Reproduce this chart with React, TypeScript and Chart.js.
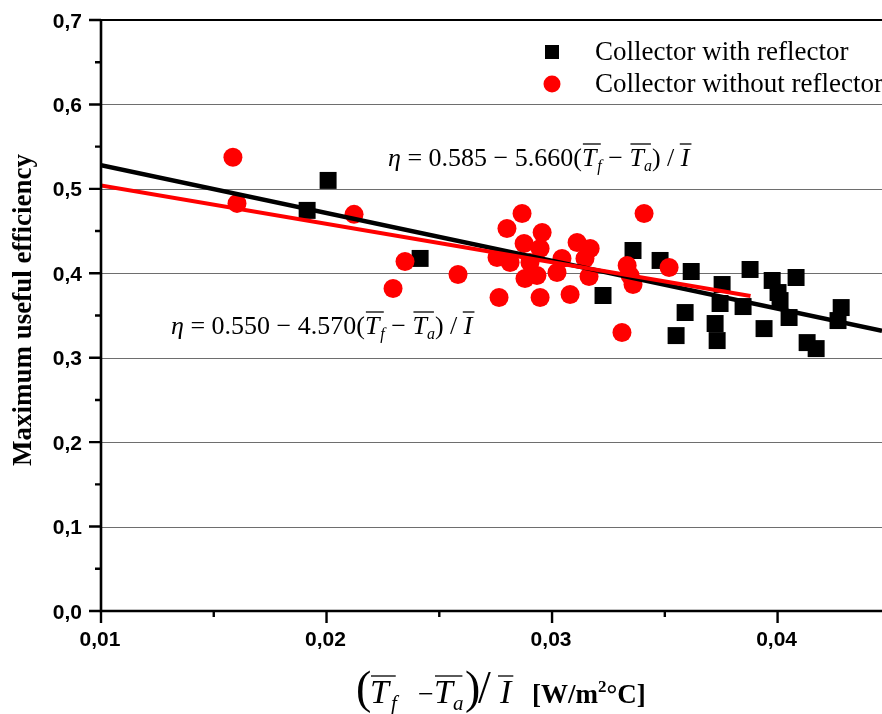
import React, { useEffect, useRef } from 'react';
import { Chart, registerables } from 'chart.js';

Chart.register(...registerables);

// ---- Data ----
const withReflectorX = [
  0.01914, 0.02007, 0.02415, 0.03226, 0.03359, 0.03479, 0.03617, 0.0355, 0.0359,
  0.03723, 0.03732, 0.03754, 0.03745, 0.03847, 0.03878, 0.0394, 0.03976, 0.04002,
  0.04011, 0.04051, 0.04082, 0.04131, 0.04171, 0.04282, 0.04268,
];
const withReflectorY = [
  0.4745, 0.51, 0.4176, 0.3737, 0.427, 0.4152, 0.4021, 0.3262, 0.3535,
  0.3405, 0.3203, 0.3867, 0.3642, 0.3606, 0.4045, 0.3345, 0.3915, 0.3772,
  0.3677, 0.3476, 0.395, 0.3179, 0.3108, 0.3594, 0.344,
];
const withoutReflectorX = [
  0.01585, 0.01603, 0.02122, 0.02295, 0.02348, 0.02583, 0.02765, 0.02756, 0.028,
  0.02867, 0.02956, 0.02814, 0.02876, 0.02947, 0.0288, 0.02933, 0.02902, 0.03022,
  0.03044, 0.02947, 0.0308, 0.03111, 0.03169, 0.03146, 0.03164, 0.03408, 0.03333,
  0.03346, 0.03359, 0.0331, 0.03519,
];
const withoutReflectorY = [
  0.5374, 0.4828, 0.4698, 0.382, 0.414, 0.3986, 0.3713, 0.4187, 0.4531,
  0.4709, 0.4484, 0.4128, 0.4353, 0.4294, 0.3938, 0.3974, 0.4128, 0.4009,
  0.4176, 0.3713, 0.3749, 0.4365, 0.4294, 0.4176, 0.3962, 0.4709, 0.4093,
  0.3974, 0.3867, 0.3298, 0.4069,
];
const fitWithX = [0.01, 0.04463];
const fitWithY = [0.528, 0.332];
const fitWithoutX = [0.01, 0.0388];
const fitWithoutY = [0.504, 0.373];

const xTickValues = [0.01, 0.02, 0.03, 0.04];
const xTickLabels = ['0,01', '0,02', '0,03', '0,04'];
const xMinorTickValues = [0.015, 0.025, 0.035];
const yTickValues = [0, 0.1, 0.2, 0.3, 0.4, 0.5, 0.6, 0.7];
const yTickLabels = ['0,0', '0,1', '0,2', '0,3', '0,4', '0,5', '0,6', '0,7'];
const yMinorTickValues = [0.05, 0.15, 0.25, 0.35, 0.45, 0.55, 0.65];
const xMin = 0.01;
const xMax = 0.04463;
const yMin = 0;
const yMax = 0.7;

const legendLabels = ['Collector with reflector', 'Collector without reflector'];
const yTitle = 'Maximum useful efficiency';
const eqWith = { a: '0.585', b: '5.660' };
const eqWithout = { a: '0.550', b: '4.570' };
const xUnit = ['[W/m', '2', '°C]'];

const toPts = (xs: number[], ys: number[]) => xs.map((x, i) => ({ x, y: ys[i] }));

type Run = { t: string; font: string; dy?: number; ol?: boolean; gap?: number; at?: number; olPad?: number };

const SERIF = '"Liberation Serif", "Times New Roman", serif';
const SANS = '"Liberation Sans", Arial, sans-serif';

function drawRuns(ctx: CanvasRenderingContext2D, x: number, y: number, runs: Run[], olOffset: number) {
  let cx = x;
  let olStart: number | null = null;
  let pad = 0;
  ctx.textBaseline = 'alphabetic';
  ctx.textAlign = 'left';
  const flush = (end: number) => {
    if (olStart !== null) {
      ctx.beginPath();
      ctx.moveTo(olStart - pad, y - olOffset);
      ctx.lineTo(end + pad, y - olOffset);
      ctx.lineWidth = 1.3;
      ctx.strokeStyle = '#000';
      ctx.stroke();
      olStart = null;
      pad = 0;
    }
  };
  for (const r of runs) {
    ctx.font = r.font;
    const w = ctx.measureText(r.t).width;
    const prevEnd = cx;
    if (r.at !== undefined) cx = r.at;
    cx += r.gap || 0;
    if (r.ol) {
      if (olStart === null) {
        olStart = cx + 1;
        pad = r.olPad || 0;
      }
    } else {
      flush(prevEnd - 1);
    }
    ctx.fillStyle = '#000';
    ctx.fillText(r.t, cx, y + (r.dy || 0));
    cx += w;
  }
  flush(cx);
}

function eqRuns(a: string, b: string, s: number): Run[] {
  const it = `italic ${s}px ${SERIF}`;
  const rm = `${s}px ${SERIF}`;
  const sub = `italic ${Math.round(s * 0.62)}px ${SERIF}`;
  return [
    { t: 'η', font: it },
    { t: ' = ' + a + ' − ' + b + '(', font: rm },
    { t: 'T', font: it, ol: true },
    { t: 'f', font: sub, dy: 5, ol: true, gap: 1 },
    { t: ' − ', font: rm },
    { t: 'T', font: it, ol: true },
    { t: 'a', font: sub, dy: 5, ol: true },
    { t: ') / ', font: rm },
    { t: 'I', font: it, ol: true, olPad: 2 },
  ];
}

const overlayPlugin = {
  id: 'overlay',
  beforeDatasetsDraw(chart: any) {
    const { ctx, chartArea, scales } = chart;
    const ys = scales.y;
    ctx.save();
    ctx.strokeStyle = '#6e6e6e';
    ctx.lineWidth = 1.2;
    for (const v of yTickValues) {
      if (v === yMin || v === yMax) continue;
      const py = Math.round(ys.getPixelForValue(v)) + 0.5;
      ctx.beginPath();
      ctx.moveTo(chartArea.left, py);
      ctx.lineTo(chartArea.right, py);
      ctx.stroke();
    }
    ctx.restore();
  },
  afterDraw(chart: any) {
    const { ctx, chartArea, scales } = chart;
    const xs = scales.x;
    const ys = scales.y;
    ctx.save();
    // frame lines
    ctx.strokeStyle = '#000';
    ctx.lineWidth = 2;
    const top = ys.getPixelForValue(yMax);
    ctx.beginPath();
    ctx.moveTo(chartArea.left, top);
    ctx.lineTo(chartArea.right, top);
    ctx.stroke();
    ctx.lineWidth = 2.6;
    const bottom = ys.getPixelForValue(yMin);
    ctx.beginPath();
    ctx.moveTo(chartArea.left - 1.3, bottom);
    ctx.lineTo(chartArea.right, bottom);
    ctx.moveTo(chartArea.left, bottom + 1.3);
    ctx.lineTo(chartArea.left, top - 1);
    ctx.stroke();
    // tick marks
    ctx.lineWidth = 2.4;
    ctx.beginPath();
    for (const v of yTickValues) {
      const py = ys.getPixelForValue(v);
      ctx.moveTo(chartArea.left, py);
      ctx.lineTo(chartArea.left - 12, py);
    }
    for (const v of yMinorTickValues) {
      const py = ys.getPixelForValue(v);
      ctx.moveTo(chartArea.left, py);
      ctx.lineTo(chartArea.left - 6, py);
    }
    for (const v of xTickValues) {
      const px = xs.getPixelForValue(v);
      ctx.moveTo(px, bottom);
      ctx.lineTo(px, bottom + 12);
    }
    for (const v of xMinorTickValues) {
      const px = xs.getPixelForValue(v);
      ctx.moveTo(px, bottom);
      ctx.lineTo(px, bottom + 6);
    }
    ctx.stroke();

    // tick labels
    ctx.fillStyle = '#000';
    ctx.font = `bold 21px ${SANS}`;
    ctx.textBaseline = 'alphabetic';
    ctx.textAlign = 'right';
    yTickValues.forEach((v, i) => {
      ctx.fillText(yTickLabels[i], chartArea.left - 19, ys.getPixelForValue(v) + 7.5);
    });
    ctx.textAlign = 'center';
    xTickValues.forEach((v, i) => {
      ctx.fillText(xTickLabels[i], xs.getPixelForValue(v) - 1, bottom + 35);
    });

    // legend
    ctx.fillStyle = '#000';
    ctx.fillRect(545, 45, 14, 14);
    ctx.fillStyle = '#ff0000';
    ctx.beginPath();
    ctx.arc(552, 84, 8.5, 0, Math.PI * 2);
    ctx.fill();
    ctx.fillStyle = '#000';
    ctx.font = `27px ${SERIF}`;
    ctx.textAlign = 'left';
    ctx.textBaseline = 'alphabetic';
    ctx.fillText(legendLabels[0], 595, 60);
    ctx.fillText(legendLabels[1], 595, 92);

    // equations
    drawRuns(ctx, 388, 166, eqRuns(eqWith.a, eqWith.b, 26), 22);
    drawRuns(ctx, 171, 334, eqRuns(eqWithout.a, eqWithout.b, 26), 22);

    // y title
    ctx.save();
    ctx.translate(31, 310);
    ctx.rotate(-Math.PI / 2);
    ctx.font = `bold 27px ${SERIF}`;
    ctx.textAlign = 'center';
    ctx.textBaseline = 'alphabetic';
    ctx.fillStyle = '#000';
    ctx.fillText(yTitle, 0, 0);
    ctx.restore();

    // x title
    const big = `46px ${SERIF}`;
    const it = `italic 34px ${SERIF}`;
    const sub = `italic 21px ${SERIF}`;
    const bd = `bold 27px ${SERIF}`;
    const bdSup = `bold 17px ${SERIF}`;
    drawRuns(
      ctx,
      356,
      703,
      [
        { t: '(', font: big, at: 356 },
        { t: 'T', font: it, ol: true, at: 370 },
        { t: 'f', font: sub, dy: 7, ol: true, gap: 2 },
        { t: '−', font: `28px ${SERIF}`, at: 418 },
        { t: 'T', font: it, ol: true, at: 434 },
        { t: 'a', font: sub, dy: 7, ol: true },
        { t: ')', font: big, at: 465 },
        { t: '/', font: big, at: 478 },
        { t: 'I', font: it, ol: true, at: 500, olPad: 3 },
        { t: xUnit[0], font: bd, at: 532 },
        { t: xUnit[1], font: bdSup, dy: -11 },
        { t: xUnit[2], font: bd },
      ],
      27
    );
    ctx.restore();
  },
};

export default function App() {
  const ref = useRef<HTMLCanvasElement | null>(null);
  useEffect(() => {
    document.body.style.margin = '0';
    const canvas = ref.current;
    if (!canvas) return;
    const chart = new Chart(canvas, {
      type: 'scatter',
      data: {
        datasets: [
          {
            label: 'fit without reflector',
            data: toPts(fitWithoutX, fitWithoutY),
            showLine: true,
            borderColor: '#ff0000',
            borderWidth: 4,
            pointRadius: 0,
            backgroundColor: '#ff0000',
          },
          {
            label: 'fit with reflector',
            data: toPts(fitWithX, fitWithY),
            showLine: true,
            borderColor: '#000000',
            borderWidth: 4.5,
            pointRadius: 0,
            backgroundColor: '#000000',
          },
          {
            label: legendLabels[1],
            data: toPts(withoutReflectorX, withoutReflectorY),
            pointStyle: 'circle',
            pointRadius: 9.5,
            pointBorderWidth: 0,
            backgroundColor: '#ff0000',
            borderColor: '#ff0000',
          },
          {
            label: legendLabels[0],
            data: toPts(withReflectorX, withReflectorY),
            pointStyle: 'rect',
            pointRadius: 12,
            pointBorderWidth: 0,
            backgroundColor: '#000000',
            borderColor: '#000000',
          },
        ],
      },
      options: {
        responsive: false,
        animation: false,
        devicePixelRatio: 1,
        layout: { autoPadding: false, padding: { top: 20, right: 0, left: 0, bottom: 0 } },
        plugins: { legend: { display: false }, tooltip: { enabled: false }, title: { display: false } },
        scales: {
          x: {
            type: 'linear',
            min: xMin,
            max: xMax,
            afterBuildTicks: (s: any) => {
              s.ticks = xTickValues.map((v) => ({ value: v }));
            },
            afterFit: (s: any) => {
              s.height = 103;
            },
            grid: { display: false, drawTicks: false },
            border: { display: false },
            ticks: { display: false, padding: 0 },
          },
          y: {
            type: 'linear',
            min: yMin,
            max: yMax,
            afterBuildTicks: (s: any) => {
              s.ticks = yTickValues.map((v) => ({ value: v }));
            },
            afterFit: (s: any) => {
              s.width = 101;
            },
            grid: { display: false, drawTicks: false },
            border: { display: false },
            ticks: { display: false, padding: 0 },
          },
        },
      },
      plugins: [overlayPlugin],
    } as any);
    return () => chart.destroy();
  }, []);
  return (
    <div style={{ width: 882, height: 714, background: '#fff' }}>
      <canvas ref={ref} width={882} height={714} style={{ display: 'block' }} />
    </div>
  );
}
